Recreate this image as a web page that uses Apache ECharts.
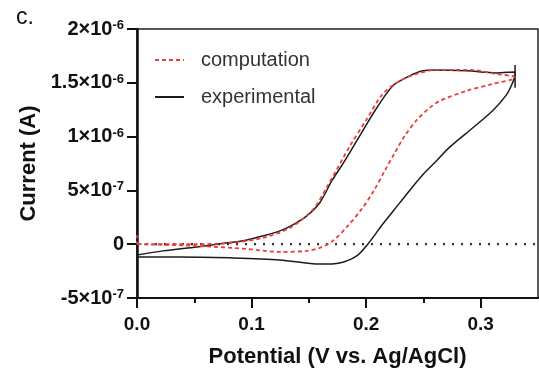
<!DOCTYPE html>
<html>
<head>
<meta charset="utf-8">
<script src="https://cdn.jsdelivr.net/npm/echarts@6/dist/echarts.min.js"></script>
<style>
html,body{margin:0;padding:0;background:#fff;}
#chart{width:539px;height:375px;}
</style>
</head>
<body>
<div id="chart"></div>
<script>
// ---- data ----
const panelLabel = 'c.';
const xTitle = 'Potential (V vs. Ag/AgCl)';
const yTitle = 'Current (A)';
const legendNames = ['computation', 'experimental'];

const xMin = 0, xMax = 0.35, xInterval = 0.1;
const xMajorTicks = [0, 0.1, 0.2, 0.3];
const xMinorTicks = [0.05, 0.15, 0.25];
const xTickLabels = ['0.0', '0.1', '0.2', '0.3'];

const yMin = -5e-7, yMax = 2e-6, yInterval = 5e-7;
const yTicks = [-5e-7, 0, 5e-7, 1e-6, 1.5e-6, 2e-6];
const yTickLabels = ['-5×10{s|-7}', '0', '5×10{s|-7}', '1×10{s|-6}', '1.5×10{s|-6}', '2×10{s|-6}'];

// experimental CV (black solid)
const expForwardV = [0, 0.0375, 0.0811, 0.1247, 0.1595, 0.1770, 0.1918, 0.2014, 0.2145, 0.2293, 0.2397, 0.2493, 0.2598, 0.2729, 0.2929, 0.3104, 0.3226, 0.3278, 0.3300];
const expForwardI = [-1.18e-7, -1.18e-7, -1.27e-7, -1.46e-7, -1.85e-7, -1.74e-7, -1.09e-7, 0, 1.87e-7, 3.84e-7, 5.23e-7, 6.44e-7, 7.57e-7, 9.02e-7, 1.08e-6, 1.24e-6, 1.39e-6, 1.50e-6, 1.58e-6];
const expSpikeV = [0.3300, 0.3300];
const expSpikeI = [1.453e-6, 1.666e-6];
const expReverseV = [0.3296, 0.3139, 0.2877, 0.2616, 0.2494, 0.2380, 0.2232, 0.2092, 0.1970, 0.1813, 0.1700, 0.1595, 0.1482, 0.1360, 0.1247, 0.1099, 0.0959, 0.0724, 0.0523, 0.0227, 0];
const expReverseI = [1.601e-6, 1.592e-6, 1.611e-6, 1.620e-6, 1.611e-6, 1.564e-6, 1.471e-6, 1.266e-6, 1.054e-6, 7.74e-7, 5.88e-7, 3.85e-7, 2.63e-7, 1.80e-7, 1.24e-7, 7.7e-8, 4.0e-8, 3e-9, -2.5e-8, -6.2e-8, -1.0e-7];

// computation CV (red dashed)
const compForwardV = [0, 0.0523, 0.0959, 0.1247, 0.1482, 0.1595, 0.1709, 0.1840, 0.1962, 0.2066, 0.2162, 0.2249, 0.2336, 0.2441, 0.2554, 0.2642, 0.2877, 0.3104, 0.3296];
const compForwardI = [0, -1.6e-8, -4.4e-8, -7.2e-8, -6.2e-8, -3.4e-8, 3.1e-8, 1.70e-7, 3.28e-7, 4.95e-7, 6.81e-7, 8.48e-7, 1.006e-6, 1.154e-6, 1.266e-6, 1.332e-6, 1.425e-6, 1.49e-6, 1.545e-6];
const compReverseV = [0.3296, 0.3139, 0.2903, 0.2616, 0.2441, 0.2293, 0.2145, 0.2005, 0.1857, 0.1657, 0.1534, 0.1334, 0.1099, 0.0811, 0.0523, 0.0052, 0];
const compReverseI = [1.554e-6, 1.582e-6, 1.62e-6, 1.62e-6, 1.582e-6, 1.517e-6, 1.396e-6, 1.162e-6, 9.1e-7, 5.3e-7, 3.20e-7, 1.52e-7, 5.9e-8, 1.2e-8, 0, 0, 0];
const compSpikeV = [0, 0];
const compSpikeI = [0, 9e-8];

// zero reference line
const zeroLineV = [0, 0.35];
const zeroLineI = [0, 0];

// ---- build ----
const zip = (xs, ys) => xs.map((x, i) => [x, ys[i]]);
const FONT = '"Liberation Sans", Arial, sans-serif';
const RED = '#ee3b3b';
const BLACK = '#1c1c1c';

const chart = echarts.init(document.getElementById('chart'), null, {renderer: 'canvas'});

const option = {
  backgroundColor: '#fff',
  animation: false,
  textStyle: {fontFamily: FONT},
  grid: {left: 137, right: 1, top: 29, bottom: 77, show: true, borderColor: '#222', borderWidth: 1.5, containLabel: false, outerBoundsMode: 'none'},
  graphic: [{
    type: 'text', left: 16, top: 6,
    style: {text: panelLabel, fontSize: 23, fontFamily: FONT, fill: '#111'}
  }],
  legend: {
    data: legendNames,
    orient: 'vertical',
    left: 154, top: 50, padding: 0,
    itemWidth: 29, itemHeight: 14, itemGap: 17,
    itemStyle: {opacity: 0},
    textStyle: {fontSize: 20, color: '#333', fontFamily: FONT, padding: [0, 0, 0, 12]}
  },
  xAxis: [{
    type: 'value', min: xMin, max: xMax, interval: xInterval, position: 'bottom',
    name: xTitle, nameLocation: 'middle', nameGap: 48,
    nameTextStyle: {fontSize: 22, fontWeight: 'bold', color: '#111', fontFamily: FONT},
    axisLine: {show: true, onZero: false, lineStyle: {color: '#111', width: 2}},
    axisTick: {show: true, inside: false, length: 10, lineStyle: {color: '#111', width: 2}, customValues: xMajorTicks},
    axisLabel: {
      show: true, margin: 17, fontSize: 19, fontWeight: 'bold', color: '#111', fontFamily: FONT,
      customValues: xMajorTicks,
      formatter: v => { const i = xMajorTicks.findIndex(t => Math.abs(t - v) < 1e-9); return i >= 0 ? xTickLabels[i] : ''; }
    },
    splitLine: {show: false}
  }, {
    type: 'value', min: xMin, max: xMax, interval: xInterval / 2, position: 'bottom', gridIndex: 0,
    axisLine: {show: false, onZero: false},
    axisTick: {show: true, inside: false, length: 5, lineStyle: {color: '#111', width: 2}, customValues: xMinorTicks},
    axisLabel: {show: false},
    splitLine: {show: false}
  }],
  yAxis: [{
    type: 'value', min: yMin, max: yMax, interval: yInterval,
    name: yTitle, nameLocation: 'middle', nameGap: 96,
    nameTextStyle: {fontSize: 22, fontWeight: 'bold', color: '#111', fontFamily: FONT},
    axisLine: {show: true, onZero: false, lineStyle: {color: '#111', width: 2.5}},
    axisTick: {show: true, inside: false, length: 10, lineStyle: {color: '#111', width: 2}},
    axisLabel: {
      margin: 13, fontSize: 20, fontWeight: 'bold', color: '#111', fontFamily: FONT,
      formatter: v => { const i = yTicks.findIndex(t => Math.abs(t - v) < 1e-12); return i >= 0 ? yTickLabels[i] : ''; },
      rich: {
        s: {fontSize: 13, fontWeight: 'bold', color: '#111', fontFamily: FONT, verticalAlign: 'top', lineHeight: 13}
      }
    },
    splitLine: {show: false}
  }],
  series: [
    {
      name: 'zero', type: 'line', data: zip(zeroLineV, zeroLineI), symbol: 'none', silent: true,
      lineStyle: {color: '#333', width: 2.2, type: [2, 7]}, z: 1
    },
    {
      name: 'experimental', type: 'line', symbol: 'none', smooth: 0.3,
      data: zip(expForwardV, expForwardI).concat(zip(expReverseV, expReverseI)),
      lineStyle: {color: BLACK, width: 1.5}, itemStyle: {color: BLACK}, z: 2
    },
    {
      name: 'experimental', type: 'line', symbol: 'none',
      data: zip(expSpikeV, expSpikeI),
      lineStyle: {color: BLACK, width: 1.5}, itemStyle: {color: BLACK}, z: 2
    },
    {
      name: 'computation', type: 'line', symbol: 'none', smooth: 0.3,
      data: zip(compForwardV, compForwardI).concat(zip(compReverseV, compReverseI)),
      lineStyle: {color: RED, width: 1.8, type: [4, 3]}, itemStyle: {color: RED}, z: 3
    },
    {
      name: 'computation', type: 'line', symbol: 'none',
      data: zip(compSpikeV, compSpikeI),
      lineStyle: {color: RED, width: 1.8, type: [3, 3]}, itemStyle: {color: RED}, z: 3
    }
  ]
};
chart.setOption(option);
</script>
</body>
</html>
